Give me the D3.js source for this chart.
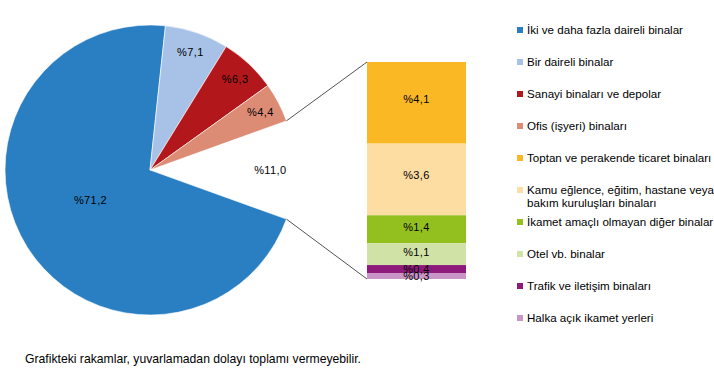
<!DOCTYPE html>
<html><head><meta charset="utf-8">
<script src="https://cdn.jsdelivr.net/npm/d3@7"></script>
<style>
html,body{margin:0;padding:0;background:#fff;}
svg{display:block;font-family:"Liberation Sans",Arial,sans-serif;}
</style></head>
<body>
<svg id="c" width="714" height="392"></svg>
<script>
// Pie data (main categories + "other" group shown as gap)
const pieCategories = ["İki ve daha fazla daireli binalar","Bir daireli binalar","Sanayi binaları ve depolar","Ofis (işyeri) binaları","Diğer"];
const pieValues = [71.2, 7.1, 6.3, 4.4, 11.0];
const pieLabels = ["%71,2","%7,1","%6,3","%4,4","%11,0"];
const pieColors = ["#2a7fc3","#a7c2e6","#b2181b","#dc8b74","none"];

// Bar (breakdown of "other")
const barCategories = ["Toptan ve perakende ticaret binaları","Kamu eğlence, eğitim, hastane veya bakım kuruluşları binaları","İkamet amaçlı olmayan diğer binalar","Otel vb. binalar","Trafik ve iletişim binaları","Halka açık ikamet yerleri"];
const barValues = [4.1, 3.6, 1.4, 1.1, 0.4, 0.3];
const barLabels = ["%4,1","%3,6","%1,4","%1,1","%0,4","%0,3"];
const barColors = ["#f9b824","#fddda2","#93c01f","#d0e2a6","#8e1b7b","#c995c6"];

// Legend
const legendLines = [
  ["İki ve daha fazla daireli binalar"],
  ["Bir daireli binalar"],
  ["Sanayi binaları ve depolar"],
  ["Ofis (işyeri) binaları"],
  ["Toptan ve perakende ticaret binaları"],
  ["Kamu eğlence, eğitim, hastane veya","bakım kuruluşları binaları"],
  ["İkamet amaçlı olmayan diğer binalar"],
  ["Otel vb. binalar"],
  ["Trafik ve iletişim binaları"],
  ["Halka açık ikamet yerleri"]
];
const legendColors = ["#2a7fc3","#a7c2e6","#b2181b","#dc8b74","#f9b824","#fddda2","#93c01f","#d0e2a6","#8e1b7b","#c995c6"];
const footnote = "Grafikteki rakamlar, yuvarlamadan dolayı toplamı vermeyebilir.";

const svg = d3.select("#c");
const cx = 150, cy = 170, R = 145;
const otherFrac = pieValues[4] / d3.sum(pieValues);
const startA = Math.PI/2 + otherFrac*Math.PI; // gap centered at right
const pie = d3.pie().sort(null).value(d=>d)
  .startAngle(startA).endAngle(startA + 2*Math.PI);
const arcs = pie(pieValues);
const arc = d3.arc().innerRadius(0).outerRadius(R);
const g = svg.append("g").attr("transform",`translate(${cx},${cy})`);
g.selectAll("path.s").data(arcs).join("path")
  .attr("d",arc)
  .attr("fill",(d,i)=>pieColors[i])
  .attr("stroke",(d,i)=>pieColors[i]==="none"?"none":"#fff")
  .attr("stroke-width",0.6);
g.selectAll("text.l").data(arcs).join("text")
  .attr("transform",(d,i)=>{
    let a=(d.startAngle+d.endAngle)/2;
    let r;
    if (d.value>50) { r = R*0.46; a += 0.09; }
    else if (i===4) r = R*0.83;
    else r = R*0.86;
    return `translate(${r*Math.sin(a)},${-r*Math.cos(a)})`;
  })
  .attr("text-anchor","middle").attr("dy","0.35em")
  .attr("font-size","11px").attr("letter-spacing","0.4px").attr("fill","#000")
  .text((d,i)=>pieLabels[i]);

// Bar
const bx = 367, bw = 99;
const total = d3.sum(barValues);
const y = d3.scaleLinear().domain([0, total]).range([279, 62]);
const cum = [];
barValues.reduce((acc,v,i)=>{cum[i]=acc;return acc+v;},0);
const segs = barValues.map((v,i)=>({v, top: total - cum[i], bot: total - cum[i] - v, i}));
svg.selectAll("rect.b").data(segs).join("rect")
  .attr("x",bx).attr("width",bw)
  .attr("y",d=>y(d.top)).attr("height",d=>y(d.bot)-y(d.top))
  .attr("fill",d=>barColors[d.i]);
svg.selectAll("text.b").data(segs).join("text")
  .attr("x",bx+bw/2).attr("y",d=>(y(d.top)+y(d.bot))/2 - (d.v>3?4:(d.v>1?2:0)))
  .attr("text-anchor","middle").attr("dy","0.35em")
  .attr("font-size","11px").attr("letter-spacing","0.4px").attr("fill","#000")
  .text(d=>barLabels[d.i]);

// connector lines
const gap = arcs[4];
const p1 = [cx + R*Math.sin(gap.startAngle), cy - R*Math.cos(gap.startAngle)];
const p2 = [cx + R*Math.sin(gap.endAngle), cy - R*Math.cos(gap.endAngle)];
svg.append("line").attr("x1",p1[0]).attr("y1",p1[1]).attr("x2",bx).attr("y2",y(total))
  .attr("stroke","#404040").attr("stroke-width",0.9);
svg.append("line").attr("x1",p2[0]).attr("y1",p2[1]).attr("x2",bx).attr("y2",y(0))
  .attr("stroke","#404040").attr("stroke-width",0.9);

// Legend
const lg = svg.append("g");
const ly = [30,62,94,126,158,190,222,254,286,318];
legendLines.forEach((lines,i)=>{
  lg.append("rect").attr("x",517).attr("y",ly[i]-3).attr("width",6).attr("height",6).attr("fill",legendColors[i]);
  lines.forEach((t,j)=>{
    lg.append("text").attr("x",527).attr("y",ly[i]+j*13).attr("dy","0.35em")
      .attr("font-size","11.6px").attr("fill","#000").text(t);
  });
});

svg.append("text").attr("x",25).attr("y",359).attr("dy","0.35em")
  .attr("font-size","12.2px").attr("fill","#000").text(footnote);
</script>
</body></html>
